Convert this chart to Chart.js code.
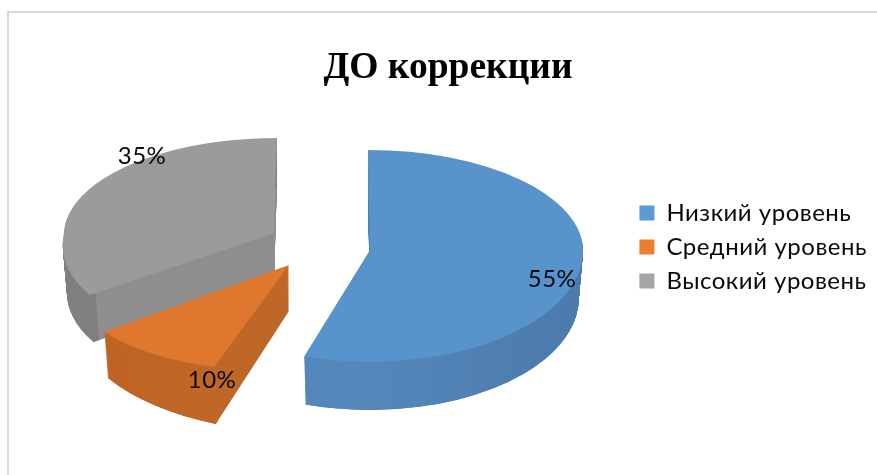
<!DOCTYPE html>
<html>
<head>
<meta charset="utf-8">
<style>html,body{margin:0;padding:0;background:#fff}canvas{display:block}</style>
<script src="https://cdn.jsdelivr.net/npm/chart.js@4"></script>
</head>
<body>
<canvas id="c" width="877" height="475"></canvas>
<script>
const categories = ['Низкий уровень', 'Средний уровень', 'Высокий уровень'];
const values = [55, 10, 35];
const valueLabels = ['55%', '10%', '35%'];
const legendColors = ['#5B9BD5', '#ED7D31', '#A5A5A5'];
const faceColors = ['#5893CB', '#DF772E', '#9B9B9B'];
const cutColors = ['#4F80B2', '#BE6727', '#8F8F8F'];
const wallColors = [['#5284B8', '#5587BB', '#4B7AAB'], ['#BC6325', '#C26827', '#BD6526'], ['#808080', '#7C7C7C', '#858585']];

const pieShiftX = -5, explode = 51, explodeSquash = 0.5, wallShrink = 0.02, baseRadius = 212;
const legendShiftY = 51, textSpacing = '0.5px';
// per-half perspective matrices (a: x scale, b: y tilt, c: x shear, d: y scale),
// grow: front stretch of the lowest wall layer, depth: wall height, nudge: vertical correction of the slice
const views = [
  { top: [1.005, 0, 0.0094, 0.472], bottom: [1.005, 0, 0, 0.528], grow: [0, 0], depth: 48, nudge: 2 },
  { top: [1.058, -0.03, -0.027, 0.496], bottom: [1.058, -0.03, -0.027, 0.496], grow: [0.0519, 0.0714], depth: 46, nudge: 0 },
  { top: [0.99, 0, -0.014, 0.448], bottom: [0.99, 0, -0.115, 0.497], grow: [0, 0], depth: 47, nudge: 0 }
];
const labelShift = [[182, 29], [-77, 115], [-132, -77]];
const drawOrder = [2, 0, 1];

function paintArc(ctx, el, view, tip, dy, fill, ringOnly) {
  const t = dy / view.depth;
  const shrink = 1 - wallShrink * t;
  const over = { options: Object.assign({}, el.options, { backgroundColor: fill, borderWidth: 0, offset: 0 }) };
  if (ringOnly) over.innerRadius = el.outerRadius - 7;
  const arc = Object.assign(Object.create(el), over);
  const seam = tip.y + dy;
  [['top', 0, seam], ['bottom', seam, 475 - seam]].forEach(([half, y0, h]) => {
    const m = view[half];
    const p = half === 'bottom' ? view.grow[0] * t : 0;
    const q = half === 'bottom' ? view.grow[1] * t : 0;
    ctx.save();
    ctx.beginPath();
    ctx.rect(0, y0, 877, h);
    ctx.clip();
    ctx.transform(m[0] * shrink, m[1] + p, m[2] * shrink, m[3] + q, tip.x, seam);
    ctx.translate(-el.x, -el.y);
    arc.draw(ctx);
    ctx.restore();
  });
}

const pie3d = {
  id: 'pie3d',
  beforeLayout(chart) {
    chart.ctx.letterSpacing = textSpacing;
  },
  afterLayout(chart) {
    const legend = chart.legend;
    legend.top += legendShiftY;
    legend.bottom += legendShiftY;
    const title = chart.titleBlock;
    if (!title.$plain) {
      title.$plain = true;
      const drawTitle = title.draw;
      title.draw = function () {
        chart.ctx.letterSpacing = '0px';
        drawTitle.apply(this, arguments);
        chart.ctx.letterSpacing = textSpacing;
      };
    }
  },
  beforeDraw(chart) {
    const ctx = chart.ctx;
    ctx.letterSpacing = textSpacing;
    ctx.save();
    ctx.fillStyle = '#fff';
    ctx.fillRect(0, 0, 877, 475);
    ctx.fillStyle = '#D9D9D9';
    ctx.fillRect(7, 11, 870, 2);
    ctx.fillRect(7, 11, 2, 464);
    ctx.restore();
  },
  beforeDatasetsDraw(chart) {
    const ctx = chart.ctx;
    const arcs = chart.getDatasetMeta(0).data;
    const tips = arcs.map((el, i) => {
      const mid = (el.startAngle + el.endAngle) / 2;
      return {
        x: Math.round(el.x + pieShiftX + Math.cos(mid) * explode),
        y: Math.round(el.y + Math.sin(mid) * explode * explodeSquash) + views[i].nudge
      };
    });
    drawOrder.forEach(i => {
      const el = arcs[i], view = views[i], tip = tips[i];
      for (let dy = view.depth; dy >= 1; dy--) paintArc(ctx, el, view, tip, dy, cutColors[i], false);
      const grad = ctx.createLinearGradient(el.x - baseRadius, 0, el.x + baseRadius, 0);
      grad.addColorStop(0, wallColors[i][0]);
      grad.addColorStop(0.5, wallColors[i][1]);
      grad.addColorStop(1, wallColors[i][2]);
      for (let dy = view.depth; dy >= 1; dy--) paintArc(ctx, el, view, tip, dy, grad, true);
      paintArc(ctx, el, view, tip, 0, faceColors[i], false);
    });
    ctx.save();
    ctx.fillStyle = '#0a0a0a';
    ctx.font = '24px Lato, "Noto Sans", sans-serif';
    ctx.textAlign = 'center';
    ctx.textBaseline = 'middle';
    arcs.forEach((el, i) => ctx.fillText(valueLabels[i], tips[i].x + labelShift[i][0], tips[i].y + labelShift[i][1]));
    ctx.restore();
    return false;
  }
};

new Chart(document.getElementById('c'), {
  type: 'pie',
  data: {
    labels: categories,
    datasets: [{ data: values, backgroundColor: legendColors, borderWidth: 0, radius: baseRadius }]
  },
  options: {
    responsive: false,
    animation: false,
    layout: { padding: { left: 19, right: 0, top: 0, bottom: 83 } },
    plugins: {
      tooltip: { enabled: false },
      title: {
        display: true,
        text: 'ДО коррекции',
        color: '#000',
        font: { family: '"Liberation Serif", serif', size: 37.5, weight: 'bold' },
        padding: { top: 46, bottom: 6 }
      },
      legend: {
        position: 'right',
        labels: {
          color: '#0a0a0a',
          boxWidth: 15,
          boxHeight: 15,
          padding: 10,
          font: { family: 'Lato, "Noto Sans", sans-serif', size: 24 }
        }
      }
    }
  },
  plugins: [pie3d]
});
</script>
</body>
</html>
